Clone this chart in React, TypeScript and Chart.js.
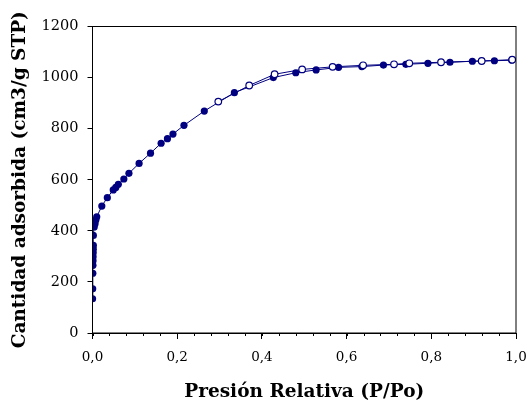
import React, { useEffect, useRef } from "react";
import { Chart, registerables } from "chart.js";

Chart.register(...registerables);

// Adsorption branch (filled markers)
const adsX = [0.0002, 0.0005, 0.0008, 0.001, 0.0012, 0.0014, 0.0016, 0.0018, 0.002, 0.002, 0.004, 0.006, 0.008, 0.010, 0.022, 0.035, 0.049, 0.055, 0.061, 0.074, 0.086, 0.110, 0.137, 0.162, 0.177, 0.190, 0.216, 0.264, 0.335, 0.427, 0.480, 0.528, 0.581, 0.636, 0.687, 0.740, 0.792, 0.844, 0.897, 0.949, 0.990];
const adsY = [134, 173, 234, 265, 283, 299, 314, 328, 343, 382, 415, 428, 443, 455, 497, 530, 560, 570, 582, 603, 625, 664, 704, 743, 761, 779, 813, 869, 941, 1000, 1019, 1030, 1040, 1043, 1049, 1052, 1056, 1060, 1064, 1066, 1068];

// Desorption branch (open markers)
const desX = [0.991, 0.919, 0.823, 0.748, 0.712, 0.639, 0.567, 0.495, 0.430, 0.370, 0.297];
const desY = [1070, 1065, 1060, 1056, 1052, 1048, 1042, 1032, 1013, 969, 906];

const xTickValues = [0, 0.2, 0.4, 0.6, 0.8, 1.0];
const yTickValues = [0, 200, 400, 600, 800, 1000, 1200];

const NAVY = "#000080";
const SERIF = "'DejaVu Serif', 'Liberation Serif', serif";

const framePlugin = {
  id: "frame",
  afterDraw(chart: any) {
    const { ctx, chartArea, scales } = chart;
    ctx.save();
    ctx.strokeStyle = "#000";
    ctx.lineWidth = 1;
    ctx.strokeRect(chartArea.left, chartArea.top, chartArea.right - chartArea.left, chartArea.bottom - chartArea.top);
    // minor ticks on x
    const xs = scales.x;
    ctx.beginPath();
    for (let i = 0; i <= 25; i++) {
      const v = i * 0.04;
      const px = Math.round(xs.getPixelForValue(v)) + 0.5;
      ctx.moveTo(px, chartArea.bottom);
      ctx.lineTo(px, chartArea.bottom + 3);
    }
    ctx.stroke();
    ctx.restore();
  },
};

export default function App() {
  const ref = useRef<HTMLCanvasElement>(null);
  useEffect(() => {
    if (!ref.current) return;
    const chart = new Chart(ref.current, {
      type: "scatter",
      data: {
        datasets: [
          {
            label: "Desorción",
            data: desX.map((x, i) => ({ x, y: desY[i] })),
            showLine: true,
            borderColor: NAVY,
            borderWidth: 1,
            backgroundColor: "#ffffff",
            pointBackgroundColor: "#ffffff",
            pointBorderColor: NAVY,
            pointBorderWidth: 1.2,
            pointRadius: 3.3,
            order: 1,
          },
          {
            label: "Adsorción",
            data: adsX.map((x, i) => ({ x, y: adsY[i] })),
            showLine: true,
            borderColor: NAVY,
            borderWidth: 1,
            backgroundColor: NAVY,
            pointBackgroundColor: NAVY,
            pointBorderColor: NAVY,
            pointBorderWidth: 0,
            pointRadius: 3.6,
            order: 2,
          },
        ],
      },
      options: {
        animation: false,
        responsive: false,
        maintainAspectRatio: false,
        layout: { padding: { top: 26.5, right: 13, left: 0, bottom: 0 } },
        plugins: { legend: { display: false }, tooltip: { enabled: false } },
        scales: {
          x: {
            type: "linear",
            min: 0,
            max: 1,
            afterFit: (s: any) => { s.height = 72; s.paddingLeft = 0; s.paddingRight = 0; },
            afterBuildTicks: (s: any) => { s.ticks = xTickValues.map((v) => ({ value: v })); },
            grid: { drawOnChartArea: false, tickLength: 6, color: "#000", tickColor: "#000" },
            border: { color: "#000", width: 1 },
            ticks: {
              color: "#000",
              font: { family: SERIF, size: 13.5 },
              padding: 10,
              maxRotation: 0,
              callback: (v: any) => Number(v).toFixed(1).replace(".", ","),
            },
            title: {
              display: true,
              text: "Presión Relativa (P/Po)",
              color: "#000",
              font: { family: SERIF, size: 18.5, weight: "bold", lineHeight: 1 },
              padding: { top: 0, bottom: 3.5 },
            },
          },
          y: {
            type: "linear",
            min: 0,
            max: 1200,
            afterFit: (s: any) => { s.width = 92.5; s.paddingTop = 0; s.paddingBottom = 0; },
            afterBuildTicks: (s: any) => { s.ticks = yTickValues.map((v) => ({ value: v })); },
            grid: { drawOnChartArea: false, tickLength: 5, color: "#000", tickColor: "#000" },
            border: { color: "#000", width: 1 },
            ticks: {
              color: "#000",
              font: { family: SERIF, size: 14.5 },
              padding: 9,
              callback: (v: any) => String(v),
            },
            title: {
              display: true,
              text: "Cantidad adsorbida (cm3/g STP)",
              color: "#000",
              font: { family: SERIF, size: 18.5, weight: "bold", lineHeight: 1 },
              padding: { top: 10.5, bottom: 0 },
            },
          },
        },
      },
      plugins: [framePlugin],
    });
    return () => chart.destroy();
  }, []);
  return (
    <div style={{ position: "fixed", left: 0, top: 0, width: 529, height: 405, background: "#fff" }}>
      <canvas ref={ref} width={529} height={405} style={{ display: "block" }} />
    </div>
  );
}
